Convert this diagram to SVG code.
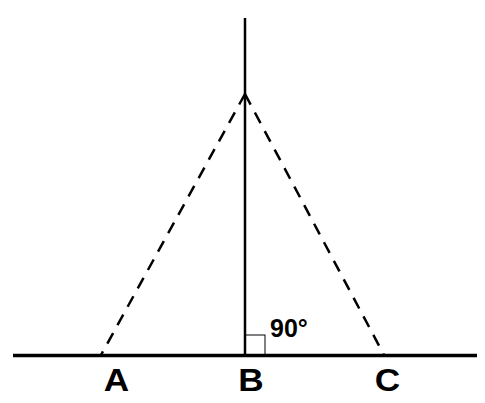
<svg xmlns="http://www.w3.org/2000/svg" width="485" height="403" viewBox="0 0 485 403">
<style>
.lbl{font-family:"Liberation Sans",Arial,sans-serif;font-weight:bold;fill:#000}
.big{font-size:32px;text-anchor:middle}
.solid{stroke:#000;fill:none}
.dash{stroke:#000;stroke-width:2.5;stroke-dasharray:12 9;fill:none}
</style>
<rect width="485" height="403" fill="#fff"/>
<g id="connectors">
<line class="solid" x1="13" y1="355.5" x2="477" y2="355.5" stroke-width="3.5"/>
<line class="solid" x1="245" y1="18" x2="245" y2="355" stroke-width="2.5"/>
<line class="dash" x1="245" y1="94" x2="101" y2="355"/>
<line class="dash" x1="245" y1="94" x2="384" y2="355"/>
<rect class="solid" x="245" y="335" width="20" height="20" stroke-width="1"/>
</g>
<g id="A"><text class="lbl big" transform="translate(116.5,391) scale(1.1,1)">A</text></g>
<g id="B"><text class="lbl big" transform="translate(251,391) scale(1.1,1)">B</text></g>
<g id="C"><text class="lbl big" transform="translate(387.5,391) scale(1.1,1)">C</text></g>
<g id="angle"><text class="lbl" x="270" y="337" font-size="25">90°</text></g>
</svg>
